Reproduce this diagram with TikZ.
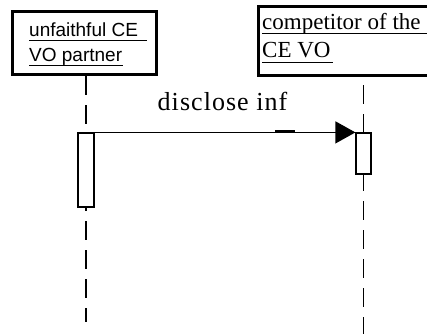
\documentclass[tikz,border=0pt]{standalone}
\usepackage{fontspec}
\setmainfont{Liberation Serif}
\newfontfamily\arialf{Liberation Sans}
\newfontfamily\msgfont[LetterSpace=4]{Liberation Serif}
\usetikzlibrary{arrows.meta}
\tikzset{
  headbox/.style={draw=black, line width=3pt, fill=white, inner sep=0pt, rectangle},
  actbox/.style={draw=black, line width=1.2pt, fill=white, inner sep=0pt, rectangle},
  lifeline/.style={draw=black, line width=1.4pt, dash pattern=on 19pt off 10pt},
  headtxt/.style={anchor=base west, inner sep=0pt},
  uline/.style={draw=black, line width=1pt},
  msg/.style={draw=black, line width=1.2pt, -{Triangle[length=20pt,width=22pt]}},
}
\begin{document}
\begin{tikzpicture}[x=1pt,y=-1pt]
\useasboundingbox (0,0) rectangle (427,333);
\clip (0,0) rectangle (427,333);
% heads
\node[headbox, minimum width=144pt, minimum height=63pt] (hA) at (84.5,43) {};
\node[headbox, minimum width=182pt, minimum height=69pt] (hB) at (349.5,41) {};
% head texts
\node[headtxt, font=\arialf\fontsize{19pt}{22pt}\selectfont] (tA1) at (29,36) {unfaithful CE};
\node[headtxt, font=\arialf\fontsize{19pt}{22pt}\selectfont] (tA2) at (29,61) {VO partner};
\draw[uline] (29,40) -- (147,40);
\draw[uline] (29,65) -- (123,65);
\node[headtxt, font=\fontsize{23pt}{26pt}\selectfont] (tB1) at (262,29) {competitor of the};
\node[headtxt, font=\fontsize{23pt}{26pt}\selectfont] (tB2) at (262,57) {CE VO};
\draw[uline] (262,33) -- (430,33);
\draw[uline] (262,62) -- (333,62);
% lifelines
\coordinate (endA) at (86,322);
\coordinate (endB) at (363.5,336);
\draw[lifeline] (hA.south -| endA) -- (endA);
\draw[lifeline, dash phase=21pt] (hB.south -| endB) -- (endB);
% activations
\node[actbox, minimum width=16pt, minimum height=74pt] (actA) at (86,170) {};
\node[actbox, minimum width=15pt, minimum height=41pt] (actB) at (363.5,153.5) {};
% message
\draw[msg] (actA.north east) -- (actB.north west);
\coordinate (m1) at (275,131.5);
\coordinate (m2) at (295,131.5);
\draw[line width=2.5pt] (m1) -- (m2);
\node[anchor=base, inner sep=0pt, font=\msgfont\fontsize{26pt}{30pt}\selectfont] (lbl) at (222.5,110) {disclose inf};
\end{tikzpicture}
\end{document}
